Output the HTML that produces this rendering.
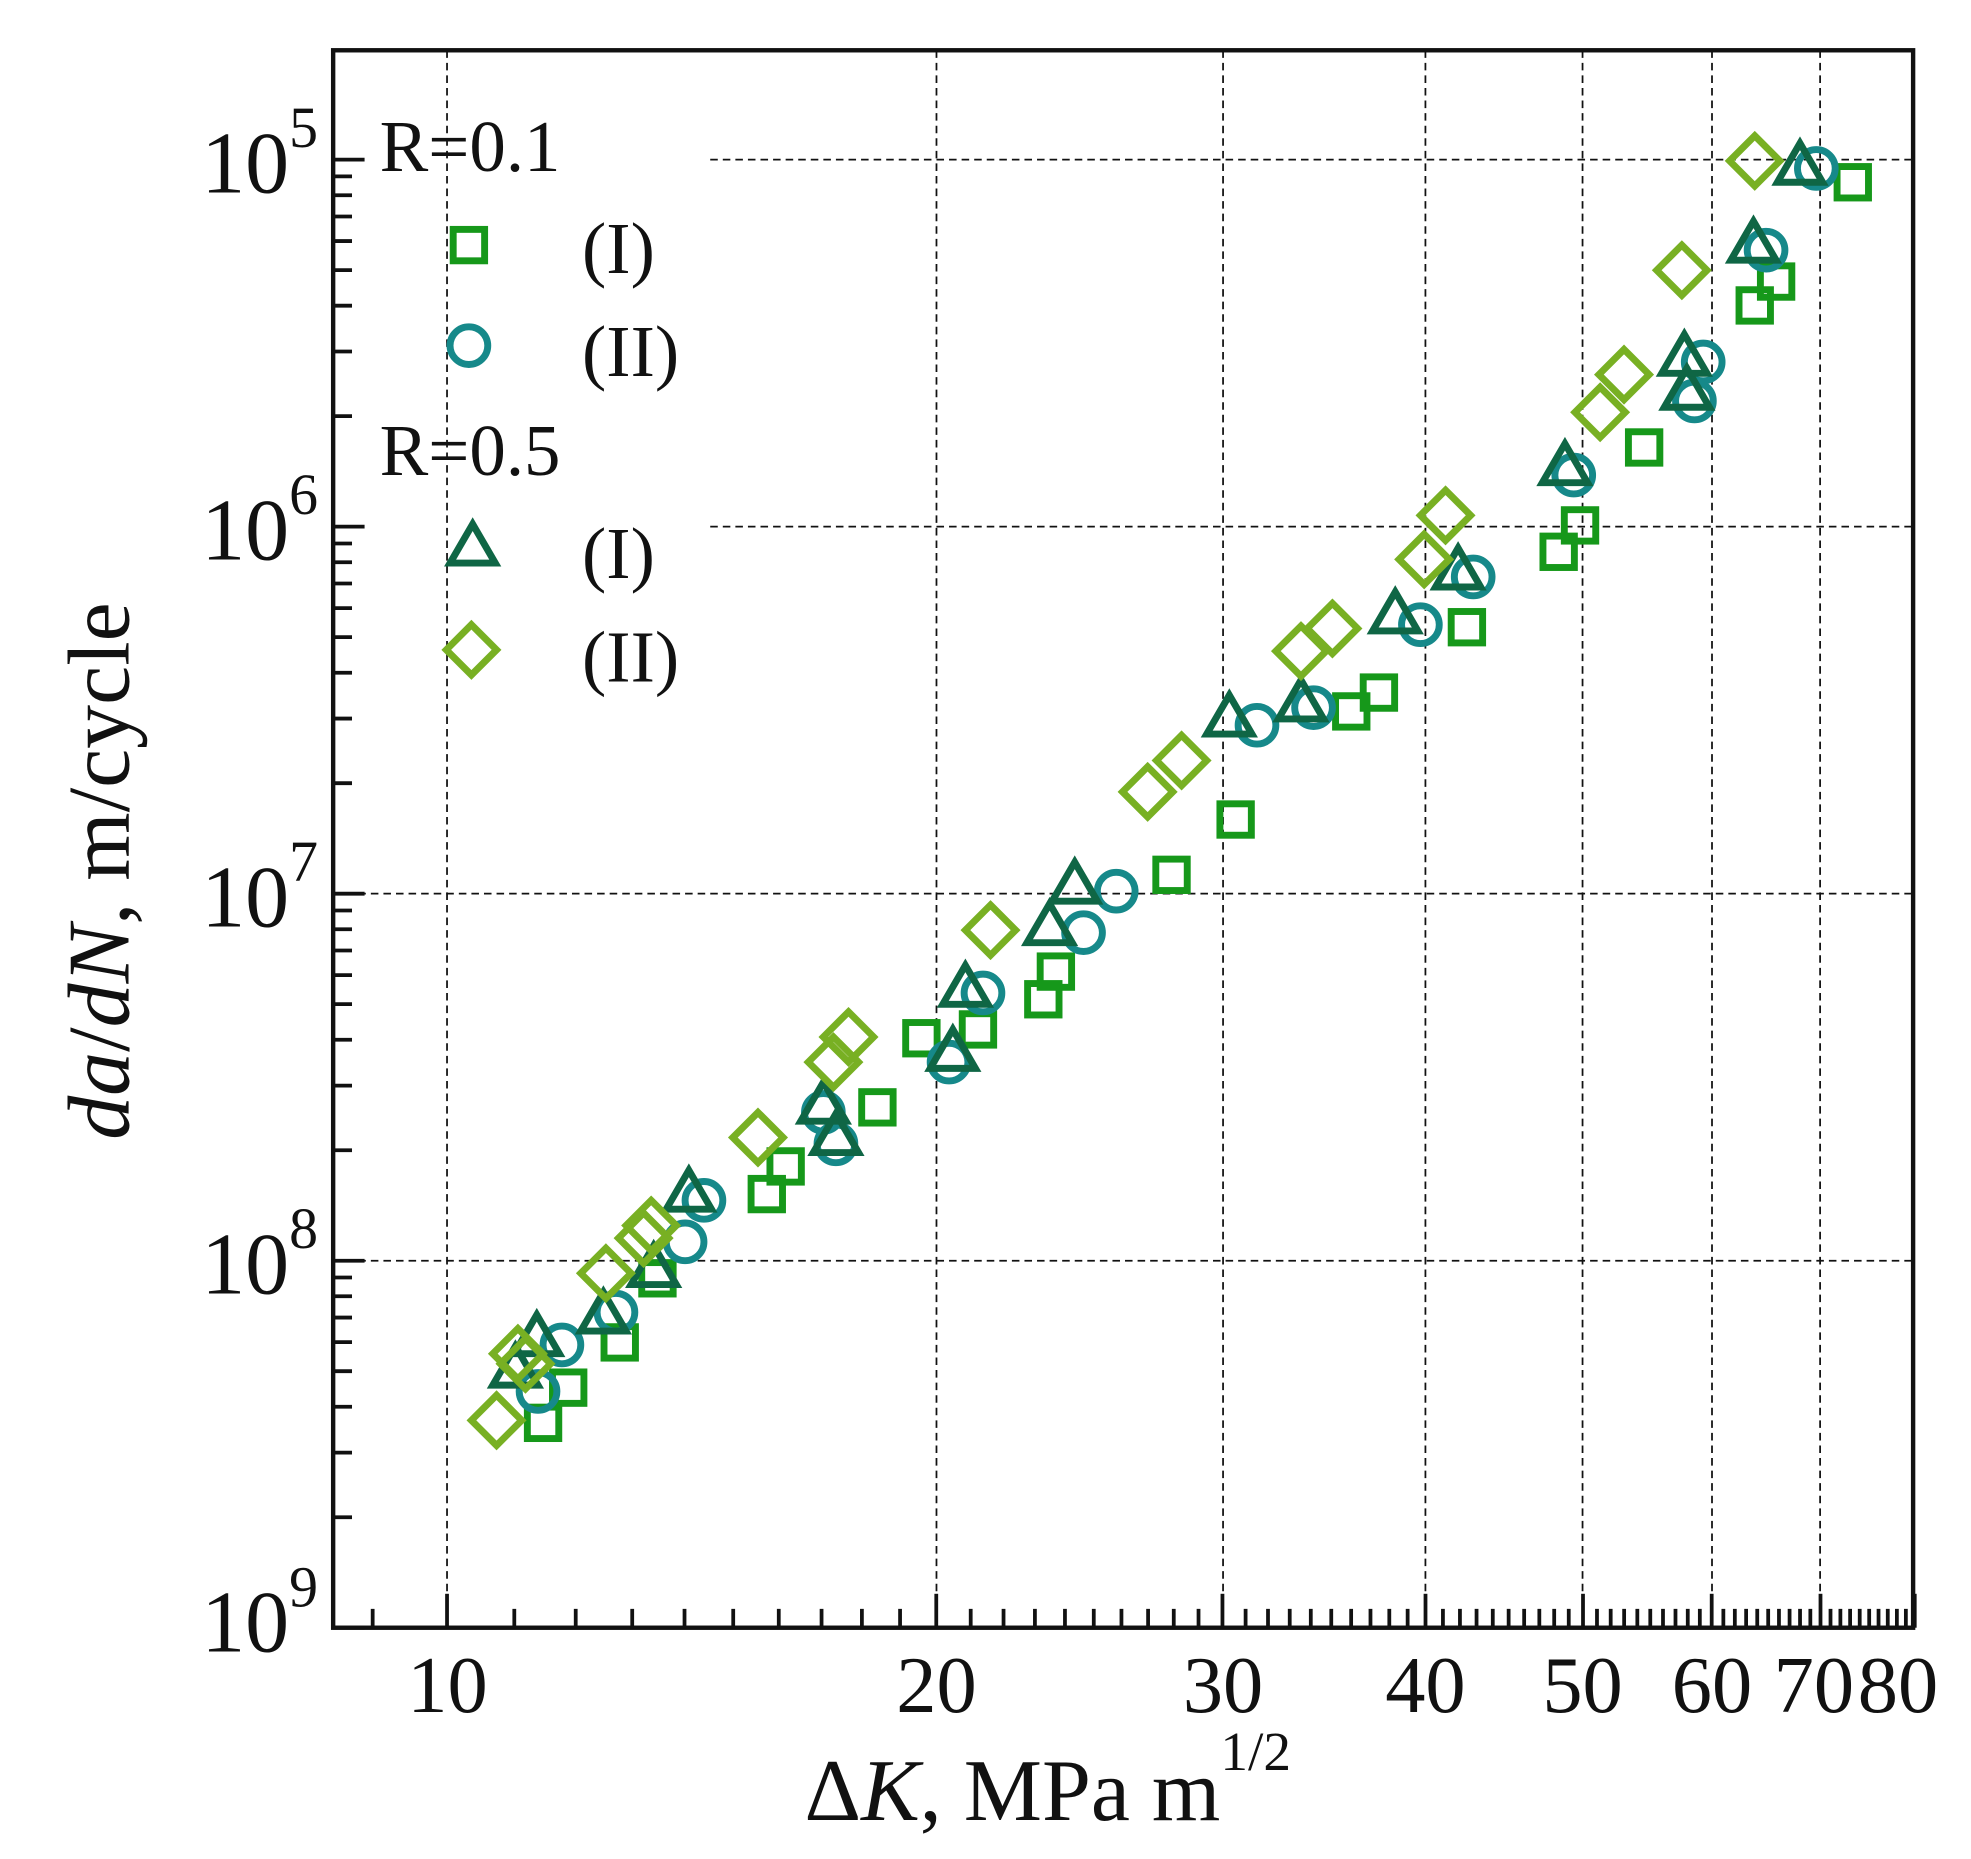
<!DOCTYPE html>
<html><head><meta charset="utf-8"><style>
html,body{margin:0;padding:0;background:#fff;}
svg{display:block;}
text{font-family:"Liberation Serif",serif;fill:#111;}
</style></head><body>
<svg width="1971" height="1859" viewBox="0 0 1568 1479" xmlns="http://www.w3.org/2000/svg">
<rect width="1568" height="1479" fill="#fff"/>
<g stroke="#111" stroke-width="1.4" stroke-dasharray="6,4" fill="none">
<line x1="355.6" y1="40" x2="355.6" y2="1295"/>
<line x1="745" y1="40" x2="745" y2="1295"/>
<line x1="973" y1="40" x2="973" y2="1295"/>
<line x1="1134" y1="40" x2="1134" y2="1295"/>
<line x1="1259" y1="40" x2="1259" y2="1295"/>
<line x1="1362" y1="40" x2="1362" y2="1295"/>
<line x1="1448" y1="40" x2="1448" y2="1295"/>
<line x1="565" y1="127" x2="1522" y2="127"/>
<line x1="565" y1="419" x2="1522" y2="419"/>
<line x1="265" y1="711" x2="1522" y2="711"/>
<line x1="265" y1="1003" x2="1522" y2="1003"/>
</g>
<g id="ticks" stroke="#111" stroke-width="3"></g>
<rect x="265" y="40" width="1257" height="1255" fill="none" stroke="#111" stroke-width="3.5"/>
<g font-size="70" text-anchor="end">
<text x="253" y="153">10<tspan dy="-36" font-size="46">5</tspan></text>
<text x="253" y="445">10<tspan dy="-36" font-size="46">6</tspan></text>
<text x="253" y="737">10<tspan dy="-36" font-size="46">7</tspan></text>
<text x="253" y="1029">10<tspan dy="-36" font-size="46">8</tspan></text>
<text x="253" y="1314">10<tspan dy="-36" font-size="46">9</tspan></text>
</g>
<g font-size="64" text-anchor="middle">
<text x="356" y="1362">10</text>
<text x="745" y="1362">20</text>
<text x="973" y="1362">30</text>
<text x="1134" y="1362">40</text>
<text x="1259" y="1362">50</text>
<text x="1362" y="1362">60</text>
<text x="1443" y="1362">70</text>
<text x="1510" y="1362">80</text>
</g>
<text x="640" y="1448" font-size="70">Δ<tspan font-style="italic">K</tspan>, MPa m<tspan dy="-40" font-size="44">1/2</tspan></text>
<text transform="translate(102,693) rotate(-90)" font-size="70" text-anchor="middle"><tspan font-style="italic">da</tspan>/<tspan font-style="italic">dN</tspan>, m/cycle</text>
<g font-size="58">
<text x="302" y="136">R=0.1</text>
<text x="463" y="217">(I)</text>
<text x="463" y="299">(II)</text>
<text x="302" y="378">R=0.5</text>
<text x="463" y="460">(I)</text>
<text x="463" y="542">(II)</text>
</g>
<g id="pts" fill="none" stroke-width="5.5"></g>
</svg>
<script>
var NS="http://www.w3.org/2000/svg";
var tk=document.getElementById("ticks");
function ln(x1,y1,x2,y2){var l=document.createElementNS(NS,"line");l.setAttribute("x1",x1);l.setAttribute("y1",y1);l.setAttribute("x2",x2);l.setAttribute("y2",y2);tk.appendChild(l);}
for(var v=9;v<=80;v++){var x=355.6+1293*Math.log10(v/10);var maj=(v%10==0);ln(x,1295,x,1295-(maj?27:15));}
for(var d=0;d<4;d++){var ty=127+292*d;ln(265,ty,290,ty);for(var k=2;k<=9;k++){var yy=ty+292*(1-Math.log10(k));ln(265,yy,280,yy);}}
ln(265,1295,290,1295);
var g=document.getElementById("pts");
function add(tag,attrs){var e=document.createElementNS(NS,tag);for(var a in attrs)e.setAttribute(a,attrs[a]);g.appendChild(e);}
function sq(x,y){add("rect",{x:x-12.5,y:y-12.5,width:25,height:25,stroke:"#16981a"});}
function ci(x,y){add("circle",{cx:x,cy:y,r:15,stroke:"#16898a"});}
function tr(x,y){add("polygon",{points:(x)+","+(y-19)+" "+(x-18)+","+(y+12)+" "+(x+18)+","+(y+12),stroke:"#0f6645"});}
function di(x,y){add("polygon",{points:x+","+(y-20)+" "+(x+20)+","+y+" "+x+","+(y+20)+" "+(x-20)+","+y,stroke:"#78b023"});}
sq(373,195);ci(373,275);tr(376,436);di(375,517);
[[432,1132],[452,1104],[493,1068],[523,1017],[610,950],[625,928],[698,881],[733,826],[778,819],[830,795],[840,773],[932,696],[983,652],[1075,566],[1097,551],[1167,499],[1240,439],[1257,418],[1308,356],[1396,243],[1413,224],[1474,145]].forEach(function(p){sq(p[0],p[1]);});
[[428,1107],[447,1070],[490,1044],[545,988],[560,955],[655,885],[665,910],[755,845],[782,790],[862,742],[888,709],[1000,577],[1045,563],[1130,497],[1172,459],[1252,378],[1348,319],[1355,288],[1405,199],[1445,134]].forEach(function(p){ci(p[0],p[1]);});
[[410,1090],[427,1065],[480,1047],[520,1010],[548,950],[655,880],[665,905],[758,838],[768,787],[835,738],[855,705],[978,572],[1035,560],[1110,490],[1160,455],[1245,372],[1342,312],[1340,285],[1395,195],[1432,133]].forEach(function(p){tr(p[0],p[1]);});
[[395,1130],[418,1085],[412,1077],[482,1013],[512,985],[518,975],[603,905],[663,845],[675,825],[788,740],[913,630],[940,605],[1035,518],[1060,500],[1133,445],[1150,410],[1273,328],[1292,298],[1338,215],[1396,128]].forEach(function(p){di(p[0],p[1]);});
</script>
</body></html>
